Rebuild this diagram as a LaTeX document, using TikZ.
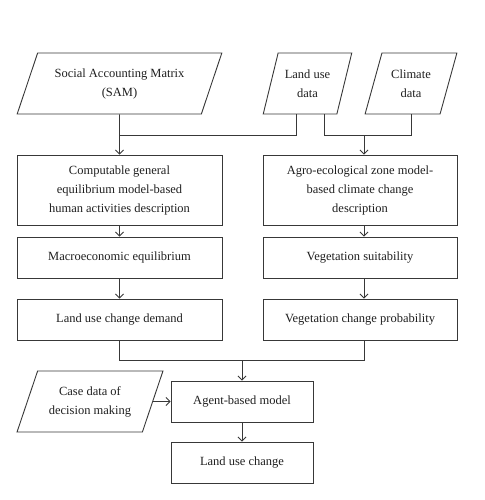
\documentclass[tikz,border=0pt]{standalone}
\usepackage{fontspec}
\setmainfont{Liberation Serif}
\usetikzlibrary{shapes.geometric,arrows.meta}
\definecolor{linec}{HTML}{383838}
\definecolor{textc}{HTML}{1E1E1E}
\begin{document}
\begin{tikzpicture}[x=1pt,y=-1pt,
  every node/.style={font=\fontsize{12.5}{19}\selectfont, text=textc, align=center},
  box/.style={draw=linec, line width=0.9pt, rectangle, inner sep=2pt},
  para/.style={draw=linec, line width=0.9pt, trapezium, trapezium stretches=true, inner sep=1pt},
  ln/.style={draw=linec, line width=0.9pt},
  arr/.style={draw=linec, line width=0.9pt, -{Straight Barb[length=4pt,width=8pt]}}]
\useasboundingbox (0,0) rectangle (484,500);
% inputs
\node[para, trapezium left angle=63, trapezium right angle=117, minimum width=205pt, minimum height=61pt] (sam) at (119.5,83.5) {Social Accounting Matrix\\(SAM)};
\node[para, trapezium left angle=68, trapezium right angle=112, minimum width=89pt, minimum height=61pt] (land) at (307.5,83.5) {Land use\\data};
\node[para, trapezium left angle=68, trapezium right angle=112, minimum width=92pt, minimum height=61pt] (clim) at (411,83.5) {Climate\\data};
\node[para, trapezium left angle=63, trapezium right angle=117, minimum width=146pt, minimum height=61pt] (case) at (90,401.5) {Case data of\\decision making};
% boxes
\node[box, minimum width=205pt, minimum height=70pt] (cge) at (119.5,190) {Computable general\\equilibrium model-based\\human activities description};
\node[box, minimum width=194pt, minimum height=70pt] (aez) at (360,190) {Agro-ecological zone model-\\based climate change\\description};
\node[box, minimum width=205pt, minimum height=41pt] (macro) at (119.5,257.5) {Macroeconomic equilibrium};
\node[box, minimum width=194pt, minimum height=41pt] (veg) at (360,257.5) {Vegetation suitability};
\node[box, minimum width=205pt, minimum height=41pt] (demand) at (119.5,319.5) {Land use change demand};
\node[box, minimum width=194pt, minimum height=41pt] (prob) at (360,319.5) {Vegetation change probability};
\node[box, minimum width=142pt, minimum height=41pt] (agent) at (242,401.5) {Agent-based model};
\node[box, minimum width=142pt, minimum height=41pt] (luc) at (242,462.5) {Land use change};
% junctions
\coordinate (j1) at (119.5,135);
\coordinate (j2) at (364,135);
\coordinate (m) at (242,360);
\coordinate (landL) at ([xshift=-11.5pt]land.south);
\coordinate (landR) at ([xshift=16.5pt]land.south);
% connectors
\draw[ln] (sam.south) -- (j1);
\draw[ln] (landL) |- (j1);
\draw[arr] (j1) -- (cge.north);
\draw[ln] (landR) -- (landR |- j2) -- (clim.south |- j2) -- (clim.south);
\draw[arr] (j2) -- (j2 |- aez.north);
\draw[arr] (cge.south) -- (macro.north);
\draw[arr] (macro.south) -- (demand.north);
\draw[arr] (aez.south -| j2) -- (veg.north -| j2);
\draw[arr] (veg.south -| j2) -- (prob.north -| j2);
\draw[ln] (demand.south) |- (m);
\draw[ln] (prob.south -| j2) |- (m);
\draw[arr] (m) -- (agent.north);
\draw[arr] (case.east) -- (agent.west);
\draw[arr] (agent.south) -- (luc.north);
\end{tikzpicture}
\end{document}
